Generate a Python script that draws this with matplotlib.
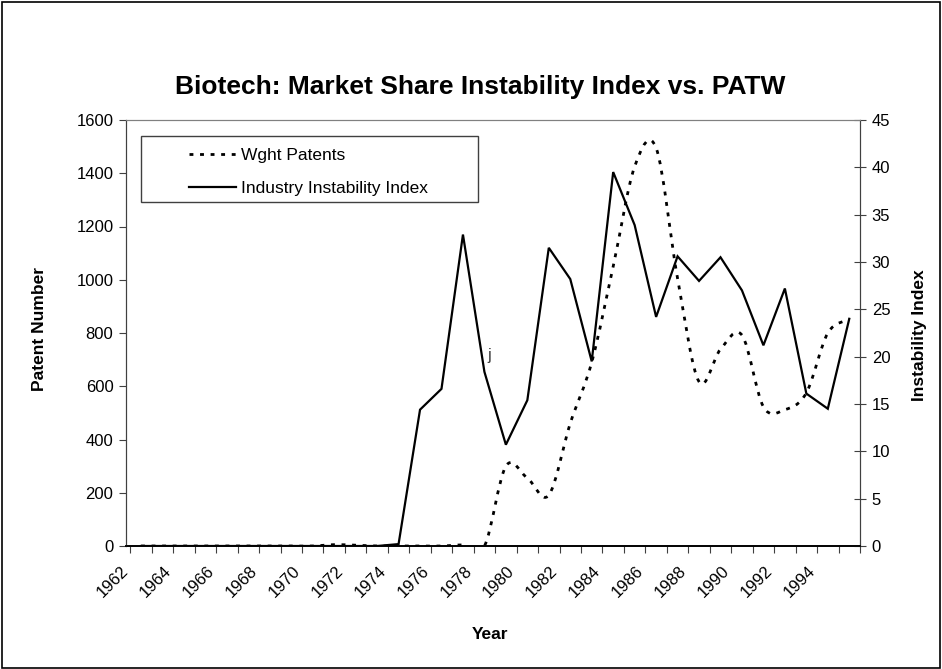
import numpy as np
import matplotlib
matplotlib.use("Agg")
import matplotlib.pyplot as plt
from matplotlib.path import Path
from matplotlib.patches import PathPatch, Rectangle
from matplotlib.lines import Line2D

plt.rcParams['font.family'] = ['Liberation Sans', 'DejaVu Sans']

years = list(range(1962, 1996))
wght_patents = [0, 0, 0, 0, 0, 0, 0, 0, 0, 5, 3, 0, 0, 0, 0, 4, 0,
                300, 255, 191, 461, 690, 1050, 1425, 1495, 1005, 617,
                739, 792, 523, 512, 575, 800, 850]
instability = [0, 0, 0, 0, 0, 0, 0, 0, 0, 0, 0, 0, 0.2, 14.4, 16.6, 32.9,
               18.4, 10.7, 15.4, 31.5, 28.2, 19.5, 39.5, 33.9, 24.2, 30.6,
               28.0, 30.5, 27.0, 21.2, 27.2, 16.1, 14.5, 24.0]
label_years = years[::2][:17]


def smooth_path(xs, ys):
    # Excel-like smoothed line: Catmull-Rom segments as cubic Beziers
    pts = np.column_stack([xs, ys]).astype(float)
    verts = [pts[0]]
    codes = [Path.MOVETO]
    n = len(pts)
    for i in range(n - 1):
        p0 = pts[i - 1] if i > 0 else pts[i]
        p1, p2 = pts[i], pts[i + 1]
        p3 = pts[i + 2] if i + 2 < n else pts[i + 1]
        c1 = p1 + (p2 - p0) / 6.0
        c2 = p2 - (p3 - p1) / 6.0
        verts += [c1, c2, p2]
        codes += [Path.CURVE4] * 3
    return Path(verts, codes)


fig = plt.figure(figsize=(9.42, 6.69), dpi=100)
fig.patches.append(Rectangle((0.002, 0.002), 0.996, 0.995, transform=fig.transFigure,
                             fill=False, edgecolor='black', linewidth=1.2))

ax = fig.add_axes([126 / 942, 1 - 546 / 669, (860 - 126) / 942, (546 - 120) / 669])
ax2 = ax.twinx()

x = np.arange(len(years))
dot_style = (0, (1.4, 2.4))

# weighted patents (left axis), smoothed dotted line
pp = PathPatch(smooth_path(x, wght_patents), fill=False, edgecolor='black',
               linewidth=2.0, linestyle=dot_style, transform=ax.transData)
ax.add_patch(pp)
ax.set_ylim(0, 1600)
ax.set_yticks(np.arange(0, 1601, 200))
ax.set_xlim(-0.5, len(years) - 0.5)

ax2.plot(x, instability, color='black', linewidth=1.6, solid_joinstyle='miter')
ax2.set_ylim(0, 45)
ax2.set_yticks(np.arange(0, 46, 5))

# category axis: tick marks between categories, labels every other year
ax.set_xticks(np.arange(-0.5, len(years), 1.0))
ax.set_xticklabels([])
ax.set_xticks([years.index(y) - 0.7 for y in label_years], minor=True)
ax.set_xticklabels([str(y) for y in label_years], minor=True, rotation=45,
                   ha='right', va='center', rotation_mode='anchor', fontsize=12)
ax.tick_params(axis='x', which='major', direction='out', length=5, color='#404040')
ax.tick_params(axis='x', which='minor', length=0, pad=16)
ax.tick_params(axis='y', direction='out', length=5, labelsize=12, color='#404040', pad=4)
ax2.tick_params(axis='y', direction='inout', length=9, labelsize=12, color='#404040', pad=4)

for a in (ax, ax2):
    a.spines['top'].set_color('#808080')
    a.spines['left'].set_color('#404040')
    a.spines['right'].set_color('#404040')
    a.spines['bottom'].set_color('black')
    a.spines['bottom'].set_linewidth(1.2)

ax.set_xlabel('Year', fontsize=12.5, fontweight='bold')
ax.xaxis.set_label_coords(0.496, -0.19)
ax.set_ylabel('Patent Number', fontsize=12.5, fontweight='bold', va='center')
ax.yaxis.set_label_coords(-0.1185, 0.51)
ax2.set_ylabel('Instability Index', fontsize=12.5, fontweight='bold', va='center')
ax2.yaxis.set_label_coords(1.0817, 0.495)

fig.text(480 / 942, 1 - 87 / 669, 'Biotech: Market Share Instability Index vs. PATW',
         fontsize=19, fontweight='bold', ha='center', va='center')

# stray character left in the original chart
ax.text(years.index(1978) + 0.15, 700, 'j', fontsize=12, color='#404040')

# legend with Excel-like box
ax2.add_patch(Rectangle((0.0204, 0.808), 0.459, 0.155, transform=ax2.transAxes,
                        fill=False, edgecolor='#404040', linewidth=1.0))
handles = [Line2D([], [], color='black', linewidth=2.0, linestyle=dot_style),
           Line2D([], [], color='black', linewidth=1.6)]
ax2.legend(handles, ['Wght Patents', 'Industry Instability Index'],
           loc='upper left', bbox_to_anchor=(0.069, 0.963), frameon=False,
           fontsize=12.5, handlelength=2.7, handletextpad=0.3, labelspacing=1.0,
           borderpad=0.2)

fig.savefig('out.png', dpi=100)
